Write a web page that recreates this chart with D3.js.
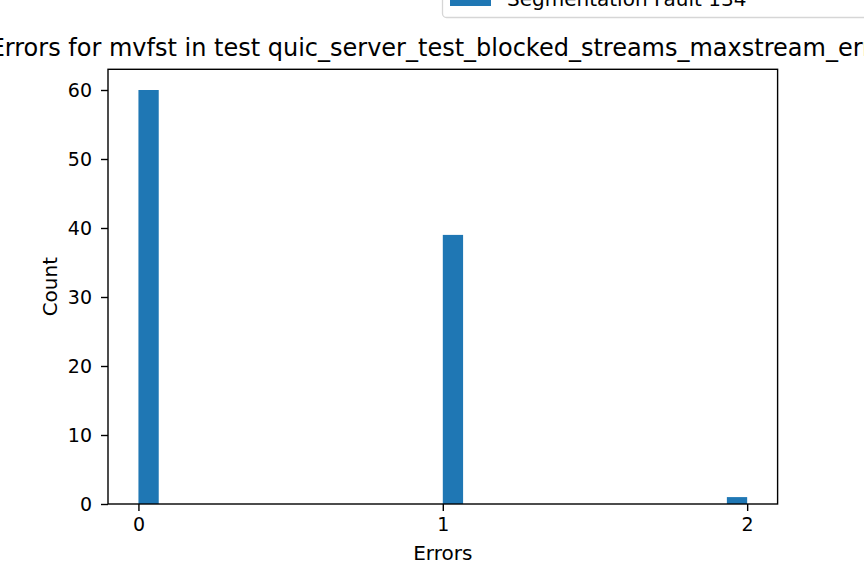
<!DOCTYPE html>
<head>
    <meta charset="utf-8">
    <title>Errors histogram</title>
    <script src="https://cdn.jsdelivr.net/npm/d3@7"></script>
    <style>
        body { margin: 0; background: #fff; }
        text { font-family: "DejaVu Sans", sans-serif; }
    </style>
</head>
<body>
<div id="container"></div>
<script>
    //------------------------------DATA------------------------------//
    const errorValues = [0, 1, 2];
    const errorCounts = [60, 39, 1];
    const binCount = 30;
    const xTicks = [0, 1, 2];
    const yTicks = [0, 10, 20, 30, 40, 50, 60];
    const seriesName = "Segmentation Fault 134";
    const titleText = "Errors for mvfst in test quic_server_test_blocked_streams_maxstream_error";

    //------------------------------SVG-------------------------------//
    const width = 864;
    const height = 576;
    const plot = {left: 108, right: 777.6, top: 69.3, bottom: 504};

    const svg = d3.select("div#container").append("svg")
        .attr("width", width)
        .attr("height", height);

    //-----------------------------SCALES-----------------------------//
    const lo = d3.min(errorValues), hi = d3.max(errorValues);
    const binWidth = (hi - lo) / binCount;
    const pad = (hi - lo) * 0.05;

    const x = d3.scaleLinear().domain([lo - pad, hi + pad]).range([plot.left, plot.right]);
    const y = d3.scaleLinear().domain([0, 63]).range([plot.bottom, plot.top]);

    // each value falls at the start of its bin
    const bars = errorValues.map(function(v, i) {
        let b = Math.min(Math.floor((v - lo) / binWidth + 1e-9), binCount - 1);
        return {x0: lo + b * binWidth, x1: lo + (b + 1) * binWidth, count: errorCounts[i]};
    });

    //-----------------------------BARS-------------------------------//
    svg.selectAll("rect.bar")
        .data(bars)
        .enter()
        .append("rect")
        .attr("class", "bar")
        .attr("x", d => x(d.x0))
        .attr("width", d => x(d.x1) - x(d.x0))
        .attr("y", d => y(d.count))
        .attr("height", d => y(0) - y(d.count))
        .attr("fill", "#1f77b4");

    //-----------------------------AXES-------------------------------//
    const xaxis = svg.append("g")
        .attr("transform", "translate(0," + plot.bottom + ")")
        .call(d3.axisBottom(x).tickValues(xTicks).tickSize(7).tickPadding(7).tickFormat(d3.format("d")));
    const yaxis = svg.append("g")
        .attr("transform", "translate(" + plot.left + ",0)")
        .call(d3.axisLeft(y).tickValues(yTicks).tickSize(7).tickPadding(9).tickFormat(d3.format("d")));

    [xaxis, yaxis].forEach(function(g) {
        g.select(".domain").remove();
        g.selectAll(".tick line").attr("stroke", "#000").attr("stroke-width", 1.4);
        g.selectAll(".tick text").attr("fill", "#000").style("font-size", "19px")
            .style("font-family", "DejaVu Sans");
    });

    // frame
    svg.append("rect")
        .attr("x", plot.left)
        .attr("y", plot.top)
        .attr("width", plot.right - plot.left)
        .attr("height", plot.bottom - plot.top)
        .attr("fill", "none")
        .attr("stroke", "#000")
        .attr("stroke-width", 1.4);

    //-----------------------------LABELS-----------------------------//
    svg.append("text")
        .attr("x", (plot.left + plot.right) / 2)
        .attr("y", 560)
        .attr("text-anchor", "middle")
        .style("font-size", "20px")
        .text("Errors");

    svg.append("text")
        .attr("transform", "translate(57," + ((plot.top + plot.bottom) / 2) + ") rotate(-90)")
        .attr("text-anchor", "middle")
        .style("font-size", "20px")
        .text("Count");

    svg.append("text")
        .attr("x", (plot.left + plot.right) / 2)
        .attr("y", 56)
        .attr("text-anchor", "middle")
        .style("font-size", "24px")
        .text(titleText);

    //-----------------------------LEGEND-----------------------------//
    const legend = svg.append("g").attr("transform", "translate(442,0)");
    legend.append("rect")
        .attr("x", 0.5)
        .attr("y", -40)
        .attr("width", 500)
        .attr("height", 57.5)
        .attr("rx", 4)
        .attr("fill", "#fff")
        .attr("fill-opacity", 0.8)
        .attr("stroke", "#d6d6d6")
        .attr("stroke-width", 1.3);
    legend.append("rect")
        .attr("x", 8)
        .attr("y", -8)
        .attr("width", 41)
        .attr("height", 14)
        .attr("fill", "#1f77b4");
    legend.append("text")
        .attr("x", 65)
        .attr("y", 6)
        .style("font-size", "20px")
        .text(seriesName);
</script>
</body>
